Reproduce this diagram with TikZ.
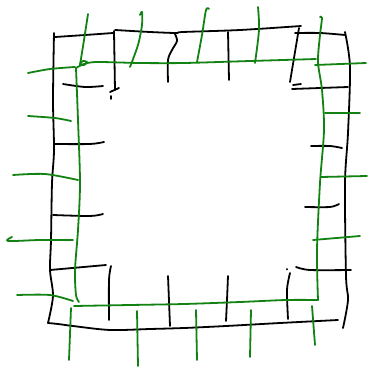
\documentclass[tikz,border=0pt]{standalone}
\usepackage{tikz}
\definecolor{leaf}{RGB}{18,130,18}

\begin{document}
\begin{tikzpicture}[x=1pt,y=-1pt,line width=1.8pt,line cap=round,line join=round,
    outer/.style={black},inner/.style={leaf}]
  \useasboundingbox (0,0) rectangle (367,367);
  % outer square, ticks pointing inwards
  \draw[outer] plot[smooth] coordinates {(55,37) (85,35) (113,33)};
  \draw[outer] plot[smooth] coordinates {(115,30) (150,32) (176,33) (183,32) (240,30) (301,26)};
  \draw[outer] plot[smooth] coordinates {(295,33) (320,33) (345,35)};
  \draw[outer] plot[smooth] coordinates {(54,33) (53,100) (54,150) (52,183) (51,240) (50,270) (53,296) (48,323)};
  \draw[outer] plot[smooth] coordinates {(48,323) (58,324) (73,326) (110,330) (150,329) (184,328) (226,326) (280,323) (338,320)};
  \draw[outer] plot[smooth] coordinates {(345,32) (350,67) (348,133) (345,183) (346,276) (348,300) (343,328)};
  % top
  \draw[outer] (114,31) -- (115,90);
  \draw[outer] (110,92) -- (119,88);
  \draw[outer] (111,96) -- (111,99);
  \draw[outer] plot[smooth] coordinates {(175,34) (177,41) (172,50) (168,60) (168,82)};
  \draw[outer] (228,32) -- (229,80);
  \draw[outer] (299,28) -- (290,82);
  \draw[outer] (293,85) -- (301,84);
  % right
  \draw[outer] (292,89) -- (348,87);
  \draw[outer] plot[smooth] coordinates {(311,146) (330,146) (342,148)};
  \draw[outer] plot[smooth] coordinates {(305,207) (330,207) (339,204)};
  \draw[outer] plot[smooth] coordinates {(296,267) (310,270) (351,270)};
  % left
  \draw[outer] plot[smooth] coordinates {(63,84) (85,87) (103,86)};
  \draw[outer] plot[smooth] coordinates {(54,144) (90,144) (104,142)};
  \draw[outer] plot[smooth] coordinates {(53,215) (90,216) (103,214)};
  \draw[outer] (50,270) -- (106,265);
  % bottom
  \draw[outer] plot[smooth] coordinates {(111,266) (109,280) (109,320)};
  \draw[outer] (168,276) -- (170,326);
  \draw[outer] plot[smooth] coordinates {(228,276) (227,300) (226,321)};
  \draw[outer] plot[smooth] coordinates {(290,273) (287,290) (288,319)};
  \draw[outer] (287,269) -- (287,269.5);

  % inner square, ticks pointing outwards
  \draw[inner] plot[smooth] coordinates {(76,68) (84,64) (97,62) (140,63) (184,63) (250,61) (316,59)};
  \draw[inner] plot[smooth cycle] coordinates {(80,64) (83,61) (87,62) (84,65)};
  \draw[inner] plot[smooth] coordinates {(76,68) (78,120) (80,183) (78,230) (75,270) (76,295) (79,302)};
  \draw[inner] plot[smooth] coordinates {(74,306) (130,305) (184,304) (240,302) (286,300) (318,300)};
  \draw[inner] plot[smooth] coordinates {(318,300) (317,250) (320,183) (324,130) (322,90) (318,62) (320,35) (322,18) (320,17)};
  % top
  \draw[inner] plot[smooth] coordinates {(88,14) (84,40) (80,65)};
  \draw[inner] plot[smooth] coordinates {(140,15) (142,12) (142,25) (138,45) (130,67)};
  \draw[inner] plot[smooth] coordinates {(209,9) (206,10) (202,35) (197,62)};
  \draw[inner] plot[smooth] coordinates {(258,7) (259,30) (255,63)};
  % right
  \draw[inner] (315,65) -- (366,63);
  \draw[inner] (325,113) -- (360,113);
  \draw[inner] (321,177) -- (367,176);
  \draw[inner] (313,240) -- (360,236);
  % left
  \draw[inner] plot[smooth] coordinates {(28,73) (50,69) (75,67)};
  \draw[inner] plot[smooth] coordinates {(28,116) (55,118) (71,121)};
  \draw[inner] plot[smooth] coordinates {(13,175) (45,174) (78,180)};
  \draw[inner] plot[smooth] coordinates {(12,237) (8,241) (40,240) (73,240)};
  \draw[inner] plot[smooth] coordinates {(17,295) (50,295) (73,301)};
  % bottom
  \draw[inner] (71,308) -- (69,360);
  \draw[inner] (137,311) -- (138,366);
  \draw[inner] (196,310) -- (197,360);
  \draw[inner] (251,310) -- (250,357);
  \draw[inner] (312,306) -- (315,345);
\end{tikzpicture}
\end{document}
